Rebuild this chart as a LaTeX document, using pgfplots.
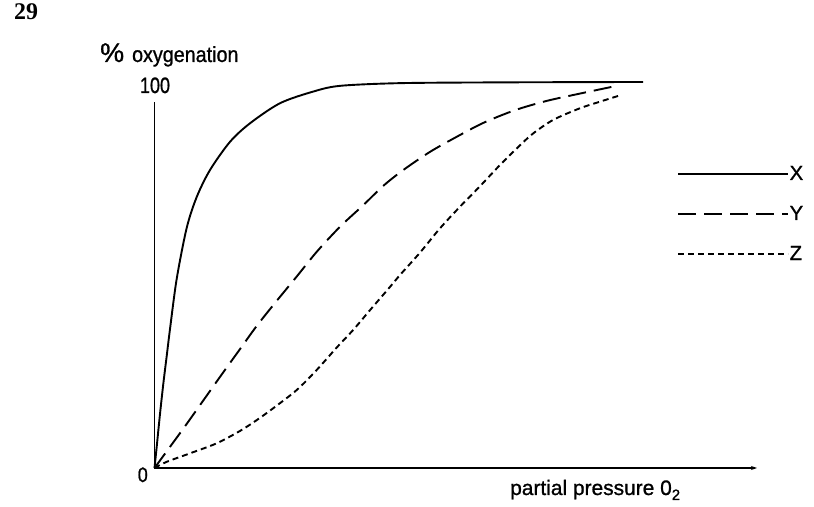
\documentclass[border=0pt]{standalone}
\usepackage{fontspec}
\setmainfont{Liberation Sans}[FakeBold=1]
\newfontfamily\numfont{Liberation Serif}
\usepackage{pgfplots}
\pgfplotsset{compat=1.18}
\usetikzlibrary{arrows.meta}

\begin{document}
\begin{tikzpicture}[x=1bp,y=1bp]
\useasboundingbox (0,0) rectangle (814,507);

\begin{axis}[
    at={(154.5bp,39bp)}, anchor=south west,
    scale only axis, width=602.5bp, height=386bp,
    xmin=0, xmax=602.5, ymin=0, ymax=100,
    hide axis, clip=false,
    legend style={at={(axis cs:522.5,78.45)}, anchor=north west, draw=none, fill=none,
        font=\fontsize{20.5}{20.5}\selectfont, row sep=23.5bp, inner sep=0pt,
        nodes={inner sep=0.5bp}},
    legend cell align=left,
    legend image code/.code={\draw[#1] (0bp,0bp) -- (110bp,0bp);},
]

% X: solid
\addplot[black, line width=1.9bp, smooth] coordinates {
    (0,0) (2.2,5.5) (5.5,14) (8.8,21.8) (12.2,29) (15.5,36) (22.2,49) (32.2,62.2)
    (42.2,70.2) (55.5,77.2) (75.5,84.5) (95.5,89.3) (125.5,94.5) (158.5,97.5)
    (185.5,99.0) (245.5,99.7) (345.5,99.9) (488.5,100)
};
\addlegendentry{X}

% Y: long dashes
\addplot[black, line width=1.9bp, smooth, dash pattern=on 18bp off 8bp] coordinates {
    (0,0) (28.8,10.2) (48.8,17.5) (68.8,24.8) (85.5,30.8) (102.2,36.8) (122.2,43.3)
    (142.2,49.6) (162.2,56.0) (185.5,62.5) (208.8,68.1) (228.8,73.1) (248.8,77.2)
    (275.5,81.9) (302.2,85.8) (328.8,89.4) (360.5,92.7) (392.2,95.1) (425.5,97.0)
    (462.2,99.0)
};
\addlegendentry{Y}

% Z: short dashes
\addplot[black, line width=1.9bp, smooth, dash pattern=on 6bp off 4bp] coordinates {
    (0,0) (12.2,1.6) (35.5,3.8) (62.2,6.4) (85.5,9.6) (102.2,12.4) (118.8,15.5)
    (142.2,20.2) (162.2,25.4) (182.2,31.2) (198.8,35.8) (215.5,40.9) (233.8,46.4)
    (245.5,50.0) (265.5,55.8) (285.5,62.1) (305.5,67.7) (325.5,73.0) (345.5,78.5)
    (365.5,83.6) (378.8,86.7) (398.8,90.2) (425.5,93.2) (445.5,94.9) (463.8,96.4)
};
\addlegendentry{Z}

\draw[line width=1.5bp, line join=miter, -{Stealth[length=6bp,width=4bp]}]
    (axis cs:0,94.8) -- (axis cs:0,0) -- (axis cs:602.5,0);
\end{axis}

\node[anchor=base west, inner sep=0, font=\numfont\bfseries\fontsize{24}{24}\selectfont] at (14,487) {29};
\node[anchor=base west, inner sep=0] at (100,445)
    {{\fontsize{27}{27}\selectfont\%}\hspace{8bp}\scalebox{0.9}[1]{\fontsize{22}{22}\selectfont oxygenation}};
\node[anchor=base, inner sep=0] at (155,414)
    {\scalebox{0.81}[1]{\fontsize{22.3}{22.3}\selectfont 100}};
\node[anchor=base east, inner sep=0] at (148,25)
    {\scalebox{0.86}[1]{\fontsize{21}{21}\selectfont 0}};
\node[anchor=base west, inner sep=0, font=\fontsize{21}{21}\selectfont] at (510,12)
    {partial pressure 0\raisebox{-5bp}{\fontsize{15}{15}\selectfont 2}};
\end{tikzpicture}
\end{document}
